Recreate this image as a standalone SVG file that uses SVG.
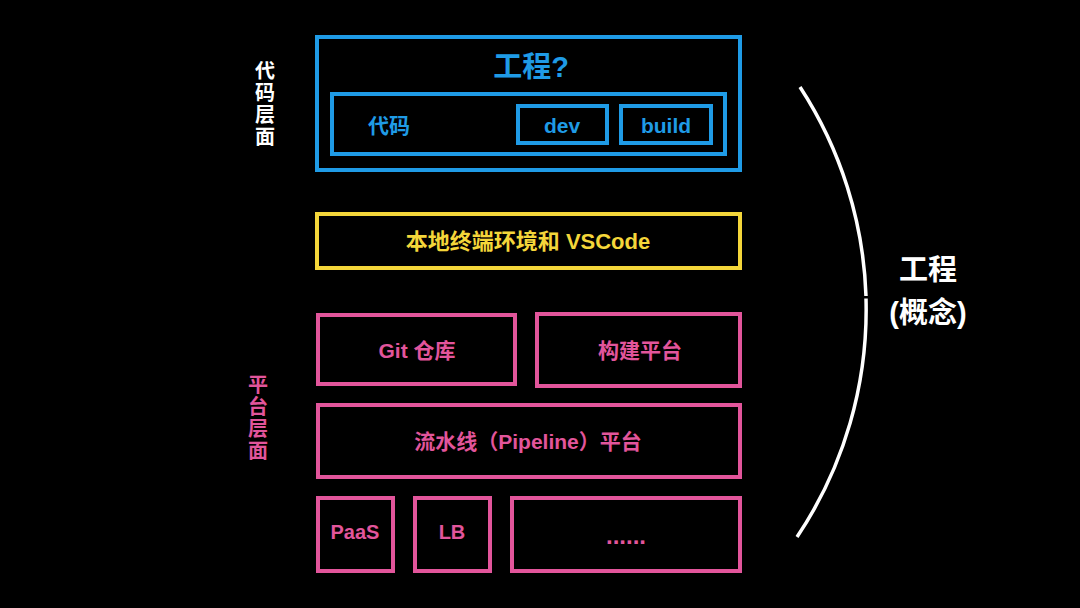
<svg xmlns="http://www.w3.org/2000/svg" width="1080" height="608" viewBox="0 0 1080 608">
<style>
text{font-family:"Liberation Sans","Noto Sans CJK SC",sans-serif;font-weight:700;text-anchor:middle;dominant-baseline:central}
.b{fill:none;stroke:#1f9be6;stroke-width:4}
.y{fill:none;stroke:#f4d63a;stroke-width:4}
.p{fill:none;stroke:#e2559b;stroke-width:4}
.tb{fill:#1f9be6}
.ty{fill:#f4d63a}
.tp{fill:#e2559b}
.tw{fill:#ffffff}
</style>
<rect width="1080" height="608" fill="#000"/>
<g id="label-code"><text class="tw" font-size="20" x="265" y="71">代</text><text class="tw" font-size="20" x="265" y="93">码</text><text class="tw" font-size="20" x="265" y="115">层</text><text class="tw" font-size="20" x="265" y="137">面</text></g>
<g id="label-platform"><text class="tp" font-size="20" x="258" y="385">平</text><text class="tp" font-size="20" x="258" y="407">台</text><text class="tp" font-size="20" x="258" y="429">层</text><text class="tp" font-size="20" x="258" y="451">面</text></g>
<g id="engineering"><rect class="b" x="317" y="37" width="423" height="133"/><text class="tb" x="531" y="67" font-size="29">工程?</text></g>
<g id="code"><rect class="b" x="332" y="94" width="393" height="60"/><text class="tb" x="389" y="125" font-size="21">代码</text></g>
<g id="dev"><rect class="b" x="518" y="106" width="89" height="37"/><text class="tb" x="562" y="125" font-size="21">dev</text></g>
<g id="build"><rect class="b" x="621" y="106" width="90" height="37"/><text class="tb" x="666" y="125" font-size="21">build</text></g>
<g id="local"><rect class="y" x="317" y="214" width="423" height="54"/><text class="ty" x="528" y="241" font-size="22">本地终端环境和 VSCode</text></g>
<g id="git"><rect class="p" x="318" y="315" width="197" height="69"/><text class="tp" x="417" y="350" font-size="21">Git 仓库</text></g>
<g id="build-platform"><rect class="p" x="537" y="314" width="203" height="72"/><text class="tp" x="640" y="350" font-size="21">构建平台</text></g>
<g id="pipeline"><rect class="p" x="318" y="405" width="422" height="72"/><text class="tp" x="528" y="441" font-size="21">流水线（Pipeline）平台</text></g>
<g id="paas"><rect class="p" x="318" y="498" width="75" height="73"/><text class="tp" x="355" y="532" font-size="20">PaaS</text></g>
<g id="lb"><rect class="p" x="415" y="498" width="75" height="73"/><text class="tp" x="452" y="532" font-size="20">LB</text></g>
<g id="more"><rect class="p" x="512" y="498" width="228" height="73"/><text class="tp" x="626" y="535" font-size="24">......</text></g>
<g id="connectors">
<path d="M 800 87 A 407.7 407.7 0 0 1 866 296" fill="none" stroke="#fff" stroke-width="3.5"/>
<path d="M 866 298.5 A 407.7 407.7 0 0 1 797 537" fill="none" stroke="#fff" stroke-width="3.5"/>
</g>
<g id="concept"><text class="tw" x="928" y="270" font-size="29" font-weight="500">工程</text><text class="tw" x="928" y="313" font-size="29" font-weight="500">(概念)</text></g>
</svg>
